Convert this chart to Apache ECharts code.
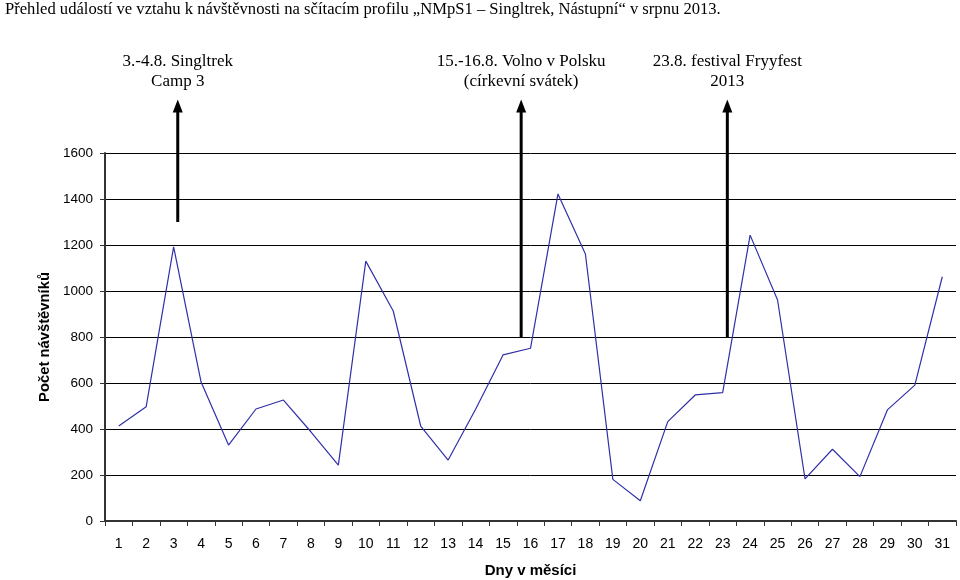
<!DOCTYPE html>
<html>
<head>
<meta charset="utf-8">
<script src="https://cdn.jsdelivr.net/npm/echarts@6/dist/echarts.min.js"></script>
<style>html,body{margin:0;padding:0;background:#fff}#c{width:960px;height:580px}</style>
</head>
<body>
<div id="c"></div>
<script>
const days = ['1','2','3','4','5','6','7','8','9','10','11','12','13','14','15','16','17','18','19','20','21','22','23','24','25','26','27','28','29','30','31'];
const visitors = [413, 497, 1192, 604, 330, 487, 526, 388, 243, 1130, 913, 413, 265, 486, 722, 751, 1422, 1161, 181, 88, 432, 548, 558, 1243, 961, 183, 312, 193, 483, 591, 1062];
const yTicks = [0, 200, 400, 600, 800, 1000, 1200, 1400, 1600];
// annotation arrows: x position (day), bottom value, top value, text
const arrowX = [3.15, 15.66, 23.17];
const arrowBottom = [1300, 800, 800];
const arrowTop = [1804, 1804, 1804];
const arrowText = ['3.-4.8. Singltrek\nCamp 3', '15.-16.8. Volno v Polsku\n(církevní svátek)', '23.8. festival Fryyfest\n2013'];

const chart = echarts.init(document.getElementById('c'), null, {renderer: 'canvas'});
const serif = '"Liberation Serif", "Times New Roman", serif';
const sans = '"Liberation Sans", Arial, sans-serif';

const arrowSeries = arrowX.map((x, i) => ({
  type: 'line',
  xAxisIndex: 1,
  yAxisIndex: 0,
  clip: false,
  silent: true,
  z: 5,
  lineStyle: {color: '#000', width: 3},
  itemStyle: {color: '#000'},
  symbolSize: [10, 13],
  data: [
    {value: [x, arrowBottom[i]], symbol: 'none'},
    {value: [x, arrowTop[i]], symbol: 'triangle',
     label: {show: true, position: 'top', distance: 8, formatter: arrowText[i],
       fontFamily: serif, fontSize: 17, lineHeight: 20, color: '#000', align: 'center'}}
  ]
}));

chart.setOption({
  animation: false,
  backgroundColor: '#fff',
  title: {
    text: 'Přehled událostí ve vztahu k návštěvnosti na sčítacím profilu „NMpS1 – Singltrek, Nástupní“ v srpnu 2013.',
    left: 0, top: -4,
    textStyle: {fontFamily: serif, fontSize: 16.6, fontWeight: 'normal', color: '#000'}
  },
  grid: {left: 105, right: 4, top: 153, bottom: 59, containLabel: false, outerBoundsMode: 'none'},
  xAxis: [{
    type: 'category',
    data: days,
    boundaryGap: true,
    name: 'Dny v měsíci',
    nameLocation: 'middle',
    nameGap: 42,
    nameTextStyle: {fontFamily: sans, fontSize: 15, fontWeight: 'bold', color: '#000'},
    axisLine: {lineStyle: {color: '#333', width: 2}},
    axisTick: {show: true, length: 5, lineStyle: {color: '#333'}},
    axisLabel: {fontFamily: sans, fontSize: 14, color: '#000', margin: 16, interval: 0},
    splitLine: {show: false}
  }, {
    type: 'value',
    min: 0.5, max: 31.5,
    show: false
  }],
  yAxis: {
    type: 'value',
    min: yTicks[0], max: yTicks[yTicks.length - 1], interval: 200,
    name: 'Počet návštěvníků',
    nameLocation: 'middle',
    nameGap: 52,
    nameTextStyle: {fontFamily: sans, fontSize: 14.8, fontWeight: 'bold', color: '#000'},
    axisLine: {show: true, lineStyle: {color: '#333', width: 2}},
    axisTick: {show: true, length: 5, lineStyle: {color: '#333'}},
    axisLabel: {fontFamily: sans, fontSize: 13.5, color: '#000', margin: 12, formatter: v => String(v)},
    splitLine: {show: true, lineStyle: {color: '#000', width: 1}}
  },
  series: [{
    type: 'line',
    data: visitors,
    symbol: 'none',
    lineStyle: {color: '#3030a8', width: 1.2},
    z: 3
  }].concat(arrowSeries)
});
</script>
</body>
</html>
